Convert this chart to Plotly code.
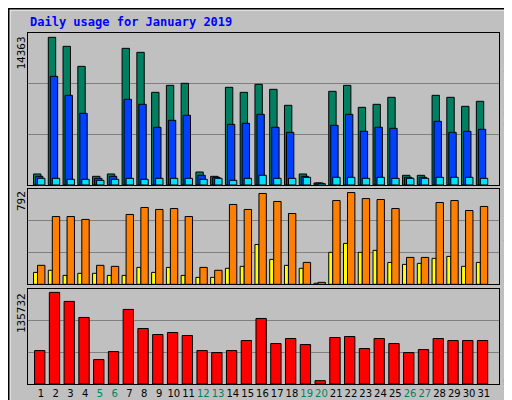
import plotly.graph_objects as go

days = list(range(1, 32))
hits = [1070,14363,13487,11542,843,1070,13293,12904,9013,9694,9889,1264,843,9500,9013,9791,9305,7749,1070,195,9110,9694,7554,7846,8527,940,940,8721,8527,7651,8138]
files = [843,10569,8721,6970,648,843,8332,7846,5609,6290,6776,940,746,5900,5998,6873,5609,5122,843,195,5803,6873,5220,5609,5511,746,746,6192,5122,5220,5414]
pages = [648,648,551,551,454,551,648,551,648,648,648,551,648,454,648,940,648,648,746,130,746,746,648,746,648,648,648,746,746,746,648]
sites = [164,585,585,560,164,155,603,663,646,654,585,146,121,689,646,784,715,611,189,17,723,792,740,732,654,232,232,706,723,637,672]
visits = [103,121,77,95,95,77,77,146,103,146,77,60,60,138,155,344,215,164,138,9,276,353,276,293,189,172,181,224,241,155,189]
kbytes = [49540,135732,122364,98585,36164,48054,110474,82236,73319,76292,71833,49540,46568,49540,64402,97098,59943,67374,58457,4954,68861,70347,52512,67374,59943,46568,51026,67374,64402,64402,64402]
weekend = {5,6,12,13,19,20,26,27}
top_max, mid_max, bot_max = 14784, 824, 141190

fig = go.Figure()
line = dict(color="black", width=1)
def bars(x_off, vals, color, width, ax):
    fig.add_trace(go.Bar(x=[d + x_off for d in days], y=vals, width=width,
                         marker=dict(color=color, line=line),
                         xaxis="x" if ax == 1 else f"x{ax}", yaxis="y" if ax == 1 else f"y{ax}",
                         showlegend=False, hoverinfo="skip"))
bars(-0.255, hits, "#008060", 0.5, 1)
bars(-0.12, files, "#0040ff", 0.5, 1)
bars(0.016, pages, "#00e0ff", 0.5, 1)
bars(-0.37, visits, "#ffff00", 0.27, 2)
bars(0.016, sites, "#ff8000", 0.5, 2)
bars(-0.085, kbytes, "#ff0000", 0.7, 3)

xr = [0.12, 32.03]
ax_common = dict(showline=True, linecolor="black", mirror=True, zeroline=False, automargin=False)
ticktext = [f'<span style="color:#008060">{d}</span>' if d in weekend else str(d) for d in days]
fig.update_layout(
    width=512, height=400, barmode="overlay",
    paper_bgcolor="#c0c0c0", plot_bgcolor="#c0c0c0",
    margin=dict(l=20, r=21, t=25, b=24, autoexpand=False),
    font=dict(family="DejaVu Sans", size=11, color="black"),
    xaxis=dict(range=xr, domain=[0, 1], anchor="y", showticklabels=False, showgrid=False, **ax_common),
    xaxis2=dict(range=xr, domain=[0, 1], anchor="y2", showticklabels=False, showgrid=False, **ax_common),
    xaxis3=dict(range=xr, domain=[0, 1], anchor="y3", tickvals=days, ticktext=ticktext, ticks="",
                tickangle=0, showgrid=False, tickfont=dict(size=10, family="DejaVu Sans"), **ax_common),
    yaxis=dict(domain=[0.567, 1], range=[0, top_max], tickvals=[top_max/3, 2*top_max/3],
               showticklabels=False, gridcolor="#808080", **ax_common),
    yaxis2=dict(domain=[0.284, 0.556], range=[0, mid_max], tickvals=[mid_max/3, 2*mid_max/3],
                showticklabels=False, gridcolor="#808080", **ax_common),
    yaxis3=dict(domain=[0, 0.2715], range=[0, bot_max], tickvals=[bot_max/3, 2*bot_max/3],
                showticklabels=False, gridcolor="#808080", **ax_common),
)
def vlab(xpx, ytop_px, text):
    fig.add_annotation(x=(xpx-20)/471, y=(376-ytop_px)/351, xref="paper", yref="paper", textangle=-90,
                       xanchor="center", yanchor="top", text=text, showarrow=False,
                       font=dict(size=11, family="DejaVu Sans Mono"))
fig.add_annotation(x=(20-20)/471, y=(376-14)/351, xref="paper", yref="paper", xanchor="left", yanchor="middle",
                   text="<b>Daily usage for January 2019</b>", showarrow=False,
                   font=dict(color="#0000ff", size=12, family="DejaVu Sans Mono"))
vlab(13, 27, "14363")
vlab(13, 181, "792")
vlab(13, 283, "135732")
vlab(500, 27, '<span style="color:#00c8c8">Pages</span> / <span style="color:#0040ff">Files</span> / <span style="color:#008060">Hits</span>')
vlab(500, 183, '<span style="color:#ff8000">Sites</span> / <span style="color:#e0e000">Visits</span>')
vlab(500, 340, '<span style="color:#ff0000">KBytes</span>')
# outer frame
fig.add_shape(type="rect", xref="paper", yref="paper", x0=-18/471, x1=509/471 - 20/471, y0=-22/351, y1=374/351,
              line=dict(color="white", width=1))
fig.add_shape(type="rect", xref="paper", yref="paper", x0=-20/471, x1=512/471 - 20/471, y0=-24/351, y1=376/351,
              line=dict(color="black", width=3))
fig.write_html("out.html")
